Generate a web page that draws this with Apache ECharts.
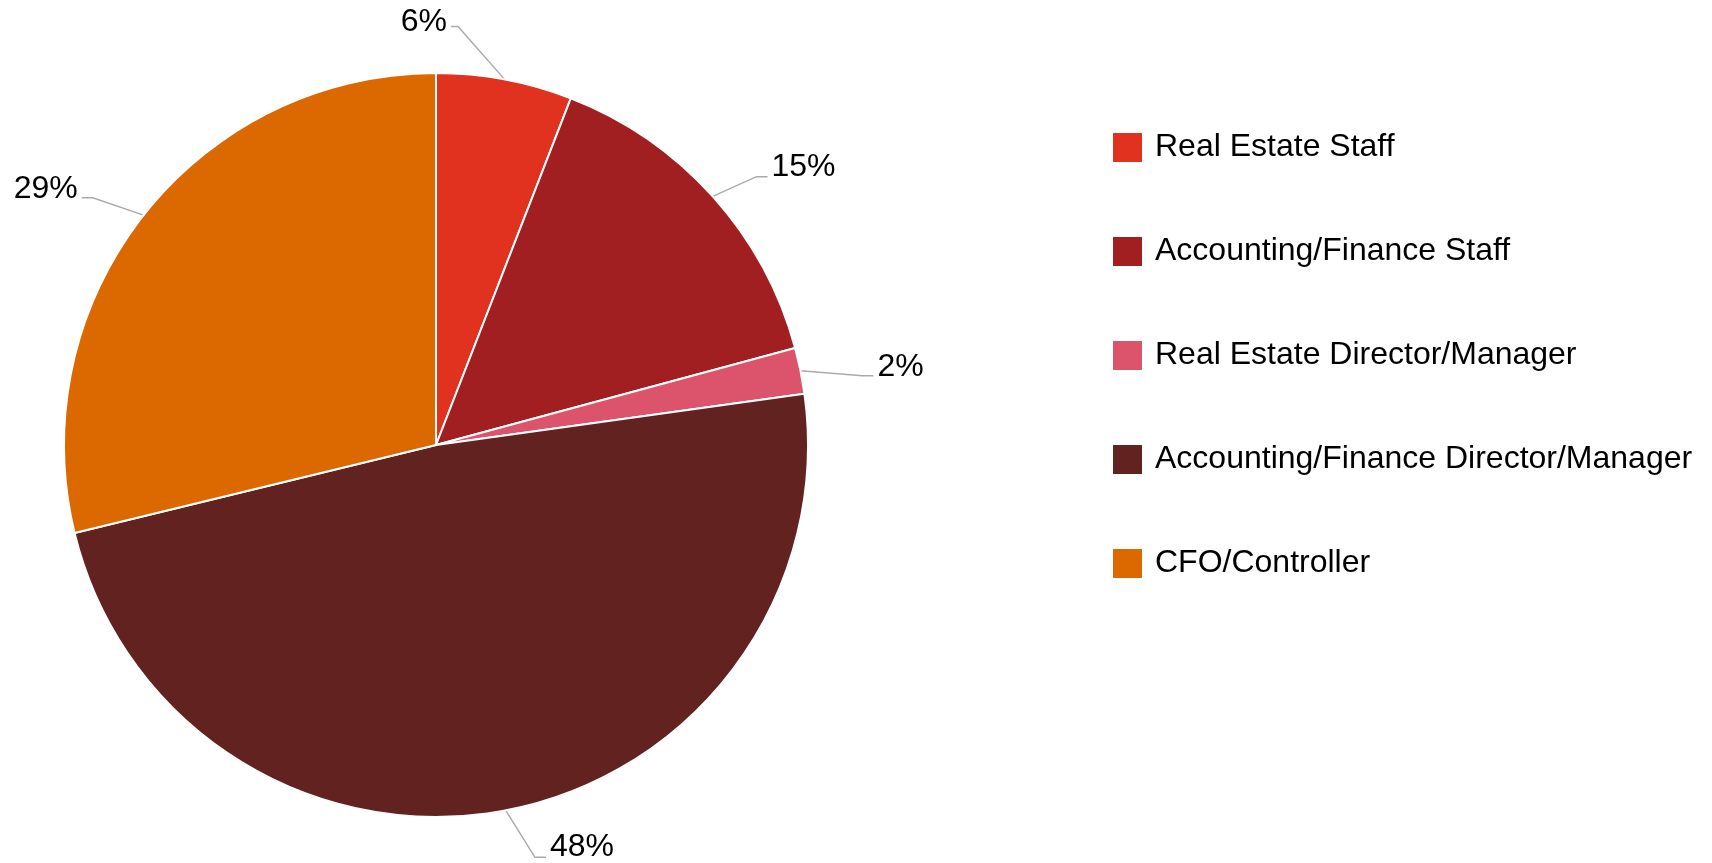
<!DOCTYPE html>
<html>
<head>
<meta charset="utf-8">
<script src="https://cdn.jsdelivr.net/npm/echarts@6/dist/echarts.min.js"></script>
<style>
  html, body { margin: 0; padding: 0; background: #fff; }
  #pie { width: 1712px; height: 863px; }
</style>
</head>
<body>
<div id="pie"></div>
<script>
const categories = [
  "Real Estate Staff",
  "Accounting/Finance Staff",
  "Real Estate Director/Manager",
  "Accounting/Finance Director/Manager",
  "CFO/Controller"
];
const shares = [5.9, 14.9, 2.0, 48.4, 28.8];
const colors = ["#e0321f", "#a11f21", "#db546c", "#612220", "#dc6800"];

// label line layout: angle nudge (deg), radial reach, tail side/length, text raise
const lineNudge = [-7.6, 2, 2.3, -2.7, -2.4];
const lineReach = [47, 46, 60, 52, 51];
const lineSide = [-1, 1, 1, 1, -1];
const tailLen = [7, 11, 11, 11, 11];
const textRaise = [4, 9, 9, 10, 9];

const cx = 436, cy = 445, R = 372;
const total = shares.reduce((a, b) => a + b, 0);

function polar(deg, r) {
  const a = deg * Math.PI / 180;
  return [cx + r * Math.sin(a), cy - r * Math.cos(a)];
}

function labelLayout(params) {
  const i = params.dataIndex;
  let before = 0;
  for (let k = 0; k < i; k++) before += shares[k];
  const mid = (before + shares[i] / 2) / total * 360;
  const edge = polar(mid, R);
  const elbow = polar(mid + lineNudge[i], R + lineReach[i]);
  const tail = [elbow[0] + lineSide[i] * tailLen[i], elbow[1]];
  return {
    x: tail[0] + lineSide[i] * 4,
    y: tail[1] - textRaise[i],
    align: lineSide[i] > 0 ? "left" : "right",
    verticalAlign: "middle",
    labelLinePoints: [edge, elbow, tail]
  };
}

let pie = document.getElementById("pie");
let pieChart = echarts.init(pie);

pieChart.setOption({
  backgroundColor: "#fff",
  color: colors,
  animation: false,
  textStyle: { fontFamily: "Liberation Sans, Arial, sans-serif" },
  legend: {
    orient: "vertical",
    left: 1106,
    top: 126,
    itemWidth: 31,
    itemHeight: 31,
    itemGap: 71,
    icon: "rect",
    textStyle: {
      fontSize: 32,
      color: "#000",
      padding: [0, 0, 0, 7]
    },
    data: categories
  },
  series: [
    {
      type: "pie",
      center: [cx, cy],
      radius: R,
      startAngle: 90,
      avoidLabelOverlap: false,
      itemStyle: { borderColor: "#fff", borderWidth: 2 },
      label: {
        show: true,
        position: "outside",
        fontSize: 32,
        color: "#000",
        formatter: (p) => Math.round(p.percent) + "%"
      },
      labelLine: {
        show: true,
        length: 44,
        length2: 11,
        lineStyle: { color: "#aaa", width: 1.5 }
      },
      labelLayout: labelLayout,
      emphasis: { disabled: true },
      data: categories.map((name, i) => ({ name: name, value: shares[i] }))
    }
  ]
});
</script>
</body>
</html>
